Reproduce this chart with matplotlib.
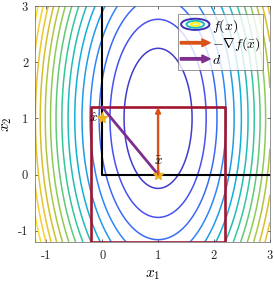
import numpy as np
import matplotlib
matplotlib.use("Agg")
import matplotlib.pyplot as plt
from matplotlib.colors import LinearSegmentedColormap
from matplotlib.patches import Ellipse, FancyArrow
from matplotlib.legend_handler import HandlerBase
from matplotlib.lines import Line2D

plt.rcParams["mathtext.fontset"] = "cm"
plt.rcParams["font.family"] = "serif"
plt.rcParams["font.serif"] = ["cmr10", "DejaVu Serif"]
plt.rcParams["axes.unicode_minus"] = False
plt.rcParams["font.size"] = 8

# objective: ellipses centred at (1, 1), stretched along x2
center = (1.0, 1.0)
y_stretch = 4.2
level_step = 0.37
n_levels = 16

xlim = (-1.2, 3.0)
ylim = (-1.2, 3.0)
ticks = [-1, 0, 1, 2, 3]
tick_labels = ["-1", "0", "1", "2", "3"]

xbar = (1.0, 0.0)
xhat = (0.0, 1.0)
grad_end = (1.0, 1.2)
d_end = (0.0, 1.2)
box_x = [-0.2, 2.2, 2.2, -0.2, -0.2]
box_y = [-1.2, -1.2, 1.2, 1.2, -1.2]
feasible_x = [3.0, 0.0, 0.0]
feasible_y = [0.0, 0.0, 3.0]

ORANGE = "#D95319"
PURPLE = "#7E2F8E"
BOXRED = "#A2142F"
GOLD = "#EDB120"

parula = LinearSegmentedColormap.from_list("parula", [
    (0.000, (0.2422, 0.1504, 0.6603)),
    (0.125, (0.2810, 0.3228, 0.9578)),
    (0.250, (0.1786, 0.5289, 0.9682)),
    (0.375, (0.0689, 0.6948, 0.8394)),
    (0.500, (0.2161, 0.7843, 0.5923)),
    (0.625, (0.5709, 0.7970, 0.3227)),
    (0.750, (0.8634, 0.7406, 0.1596)),
    (0.875, (0.9892, 0.8136, 0.1885)),
    (1.000, (0.9763, 0.9831, 0.0538)),
])


class ContourHandler(HandlerBase):
    def create_artists(self, legend, orig_handle, xdescent, ydescent,
                       width, height, fontsize, trans):
        cx = width / 2 - xdescent
        cy = height / 2 - ydescent
        out = []
        for s, c in [(1.0, parula(0.02)), (0.62, parula(0.42)), (0.3, parula(0.98))]:
            out.append(Ellipse((cx, cy), width * 0.95 * s, height * 1.15 * s,
                               fill=False, edgecolor=c, lw=1.4, transform=trans))
        return out


class ArrowHandler(HandlerBase):
    def __init__(self, color):
        super().__init__()
        self.color = color

    def create_artists(self, legend, orig_handle, xdescent, ydescent,
                       width, height, fontsize, trans):
        y = height / 2 - ydescent
        arr = FancyArrow(-xdescent, y, width, 0, width=height * 0.25,
                         head_width=height * 0.8, head_length=height * 0.85,
                         length_includes_head=True, color=self.color,
                         transform=trans)
        return [arr]


fig = plt.figure(figsize=(2.74, 2.85), dpi=100)
ax = fig.add_axes([0.128, 0.151, 0.857, 0.828])

x1 = np.linspace(xlim[0], xlim[1], 400)
x2 = np.linspace(ylim[0], ylim[1], 400)
X, Y = np.meshgrid(x1, x2)
Z = (X - center[0]) ** 2 + (Y - center[1]) ** 2 / y_stretch
levels = level_step * np.arange(1, n_levels + 1)
ax.contour(X, Y, Z, levels=levels, cmap=parula, vmin=0, vmax=Z.max(),
           linewidths=1.1)

ax.plot(feasible_x, feasible_y, color="k", lw=1.5)
ax.plot(box_x, box_y, color=BOXRED, lw=1.9)
ax.annotate("", xy=grad_end, xytext=xbar,
            arrowprops=dict(arrowstyle="-|>", color=ORANGE, lw=1.7,
                            mutation_scale=7, shrinkA=0, shrinkB=0))
ax.plot([xbar[0], d_end[0]], [xbar[1], d_end[1]], color=PURPLE, lw=2)
ax.plot(*xbar, marker="*", ms=8, color=GOLD, mec=GOLD)
ax.plot(*xhat, marker="*", ms=8, color=GOLD, mec=GOLD)
ax.text(xhat[0] - 0.08, xhat[1], r"$\hat{x}$", ha="right", va="center", fontsize=9.5)
ax.text(xbar[0], xbar[1] + 0.12, r"$\bar{x}$", ha="center", va="bottom", fontsize=9.5)

ax.set_xlim(*xlim)
ax.set_ylim(*ylim)
ax.set_xticks(ticks)
ax.set_xticklabels(tick_labels)
ax.set_yticks(ticks)
ax.set_yticklabels(tick_labels)
ax.tick_params(direction="in", length=2.5, width=0.5, top=True, right=True,
               labelsize=9, colors="0.15")
ax.tick_params(axis="x", pad=6)
ax.tick_params(axis="y", pad=5)
for sp in ax.spines.values():
    sp.set_linewidth(0.5)
    sp.set_color("0.4")
ax.set_xlabel(r"$x_1$", fontsize=11, labelpad=4)
ax.set_ylabel(r"$x_2$", fontsize=11, labelpad=3)

h_f = Line2D([], [])
h_g = Line2D([], [])
h_d = Line2D([], [])
leg = ax.legend([h_f, h_g, h_d],
                [r"$f(x)$", r"$-\nabla f(\bar{x})$", r"$d$"],
                handler_map={h_f: ContourHandler(), h_g: ArrowHandler(ORANGE),
                             h_d: ArrowHandler(PURPLE)},
                loc="upper right", bbox_to_anchor=(0.97, 0.966),
                fontsize=10, handlelength=2.15, handletextpad=0.1,
                borderpad=0.2, labelspacing=0.05, borderaxespad=0.0,
                fancybox=False, framealpha=0.8, edgecolor="0.4")
leg.get_frame().set_linewidth(0.6)

fig.savefig("out.png", dpi=100)
